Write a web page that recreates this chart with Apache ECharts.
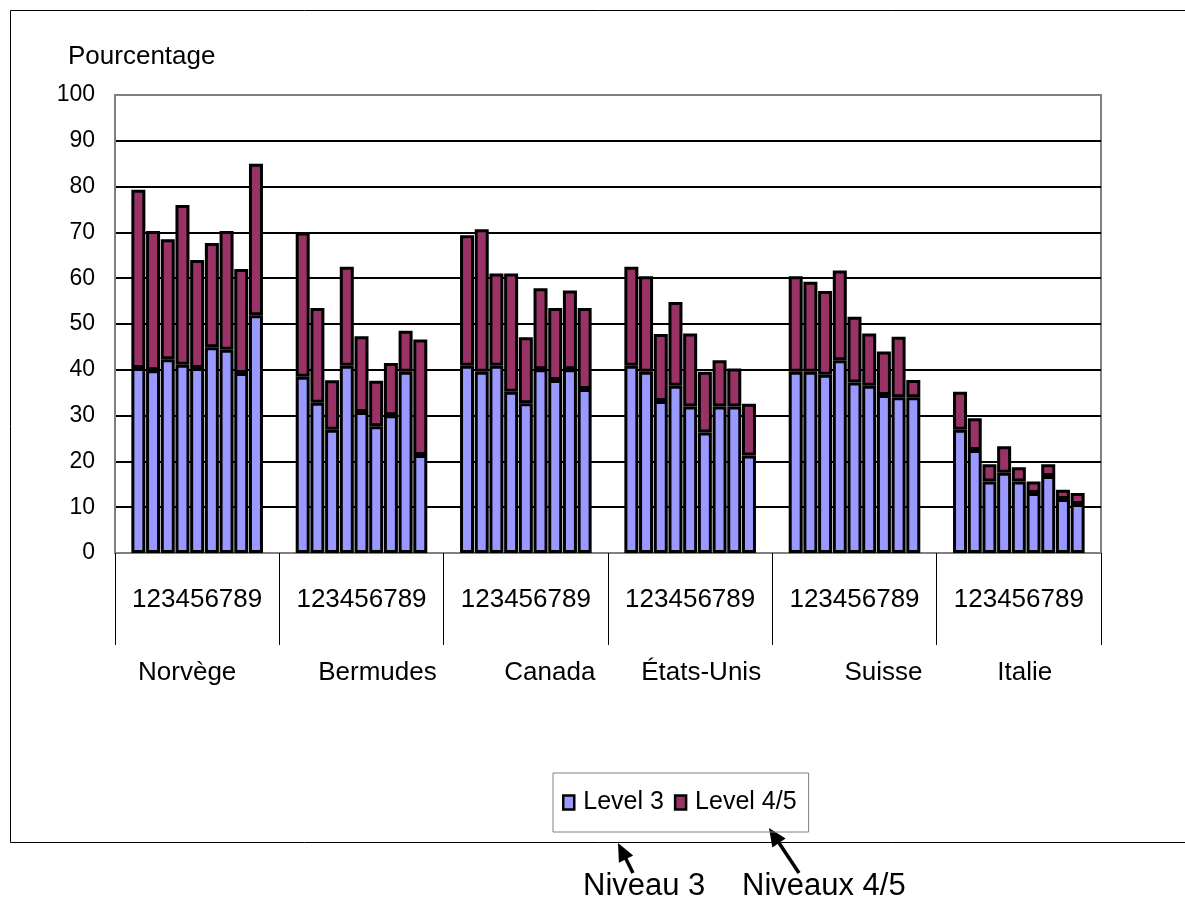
<!DOCTYPE html>
<html>
<head>
<meta charset="utf-8">
<script src="https://cdn.jsdelivr.net/npm/echarts@6/dist/echarts.min.js"></script>
<style>html,body{margin:0;padding:0;background:#fff}#c{width:1185px;height:901px}</style>
</head>
<body>
<div id="c"></div>
<script>
// ---- data ----
const countries = ['Norvège', 'Bermudes', 'Canada', 'États-Unis', 'Suisse', 'Italie'];
const subLabel = '123456789';
const yTicks = [0, 10, 20, 30, 40, 50, 60, 70, 80, 90, 100];
const seriesNames = ['Level 3', 'Level 4/5'];

const norvegeL3  = [40.4, 39.9, 42.3, 41.1, 40.4, 44.9, 44.4, 39.3, 51.9];
const norvegeL45 = [38.9, 30.4, 26.2, 34.9, 23.6, 22.8, 25.9, 22.7, 33.1];
const bermudesL3  = [38.5, 32.8, 26.9, 40.9, 30.8, 27.7, 30.1, 39.6, 21.4];
const bermudesL45 = [31.5, 20.7, 10.8, 21.6, 16.5, 9.9, 11.4, 8.9, 25.2];
const canadaL3  = [40.9, 39.6, 40.9, 35.2, 32.7, 40.1, 37.8, 40.1, 35.8];
const canadaL45 = [28.5, 31.1, 20.1, 25.8, 14.4, 17.7, 15.7, 17.2, 17.7];
const etatsUnisL3  = [40.9, 39.6, 33.2, 36.5, 32.0, 26.3, 32.0, 32.0, 21.3];
const etatsUnisL45 = [21.6, 20.8, 14.6, 18.3, 15.9, 13.3, 10.1, 8.3, 11.3];
const suisseL3  = [39.6, 39.6, 38.9, 42.1, 37.2, 36.5, 34.5, 34.0, 34.0];
const suisseL45 = [20.8, 19.6, 18.3, 19.6, 14.4, 11.4, 9.5, 13.2, 3.8];
const italieL3  = [26.9, 22.5, 15.6, 17.5, 15.6, 13.1, 16.8, 11.8, 10.7];
const italieL45 = [8.3, 6.9, 3.8, 5.8, 3.1, 2.5, 2.6, 2.0, 2.4];

// ---- build ----
const level3ByCountry = [norvegeL3, bermudesL3, canadaL3, etatsUnisL3, suisseL3, italieL3];
const level45ByCountry = [norvegeL45, bermudesL45, canadaL45, etatsUnisL45, suisseL45, italieL45];
const colors = ['#9999FF', '#993366'];
const nameShift = [-10, 16, 24, 11, 29, 6];

const series = [];
[level3ByCountry, level45ByCountry].forEach((byCountry, s) => {
  for (let j = 0; j < 9; j++) {
    series.push({
      name: seriesNames[s],
      type: 'bar',
      stack: 'b' + j,
      barWidth: 14,
      barGap: '5%',
      data: byCountry.map(arr => arr[j]),
      itemStyle: { color: colors[s], borderColor: '#000', borderWidth: 3 },
      emphasis: { disabled: true }
    });
  }
});

const rich = {};
nameShift.forEach((d, i) => {
  rich['c' + i] = {
    fontSize: 26, fontFamily: 'Liberation Sans', color: '#000',
    padding: d >= 0 ? [0, 0, 0, 2 * d] : [0, -2 * d, 0, 0]
  };
});

function arrow(tail, tip) {
  const dx = tip[0] - tail[0], dy = tip[1] - tail[1];
  const L = Math.hypot(dx, dy), ux = dx / L, uy = dy / L;
  const hl = 18, hw = 8;
  const bx = tip[0] - hl * ux, by = tip[1] - hl * uy;
  return [
    { type: 'line', shape: { x1: tail[0], y1: tail[1], x2: bx + 2 * ux, y2: by + 2 * uy }, style: { stroke: '#000', lineWidth: 3.5 } },
    { type: 'polygon', shape: { points: [tip, [bx - hw * uy, by + hw * ux], [bx + hw * uy, by - hw * ux]] }, style: { fill: '#000' } }
  ];
}

const chart = echarts.init(document.getElementById('c'));
chart.setOption({
  backgroundColor: '#fff',
  animation: false,
  title: {
    text: 'Pourcentage', left: 68, top: 44, padding: 0,
    textStyle: { fontFamily: 'Liberation Sans', fontSize: 26, fontWeight: 'normal', color: '#000' }
  },
  grid: { left: 115, top: 95, width: 986, height: 458, show: true, borderColor: '#808080', borderWidth: 2, backgroundColor: 'transparent' },
  legend: {
    data: seriesNames,
    left: 553, top: 773,
    padding: [17, 12, 17, 9],
    borderColor: '#808080', borderWidth: 1,
    itemWidth: 11, itemHeight: 14, itemGap: 10,
    icon: 'rect',
    selectedMode: false,
    itemStyle: { borderWidth: 2.5 },
    textStyle: { fontFamily: 'Liberation Sans', fontSize: 25, color: '#000', padding: [0, 0, 0, 4] }
  },
  xAxis: [
    {
      type: 'category', data: countries, gridIndex: 0,
      axisLine: { lineStyle: { color: '#808080', width: 2 } },
      axisTick: { show: true, interval: 0, length: 92, lineStyle: { color: '#000', width: 1 } },
      axisLabel: { interval: 0, margin: 34, fontSize: 26, fontFamily: 'Liberation Sans', color: '#000', formatter: () => subLabel },
      splitLine: { show: false }
    },
    {
      type: 'category', data: countries, gridIndex: 0, position: 'bottom',
      axisLine: { show: false }, axisTick: { show: false },
      axisLabel: { interval: 0, margin: 107, formatter: (v, i) => '{c' + i + '|' + v + '}', rich: rich },
      splitLine: { show: false }
    }
  ],
  yAxis: {
    type: 'value', min: yTicks[0], max: yTicks[yTicks.length - 1], interval: 10,
    axisLine: { show: true, lineStyle: { color: '#808080', width: 2 } },
    axisTick: { show: false },
    axisLabel: { margin: 20, fontSize: 23, fontFamily: 'Liberation Sans', color: '#000' },
    splitLine: { lineStyle: { color: ['#000', '#000', '#000', '#000', '#000', '#000', '#000', '#000', '#000', '#000', '#808080'], width: 2 } }
  },
  series: series,
  graphic: [
    { type: 'rect', shape: { x: 10.5, y: 10.5, width: 1200, height: 832 }, style: { fill: 'none', stroke: '#000', lineWidth: 1 }, silent: true, z: -1 },
    { type: 'text', left: 583, top: 871, style: { text: 'Niveau 3', fontFamily: 'Liberation Sans', fontSize: 31, fill: '#000' } },
    { type: 'text', left: 742, top: 871, style: { text: 'Niveaux 4/5', fontFamily: 'Liberation Sans', fontSize: 31, fill: '#000' } },
    ...arrow([633, 873], [618, 843]),
    ...arrow([799, 873], [769, 828])
  ]
});
</script>
</body>
</html>
